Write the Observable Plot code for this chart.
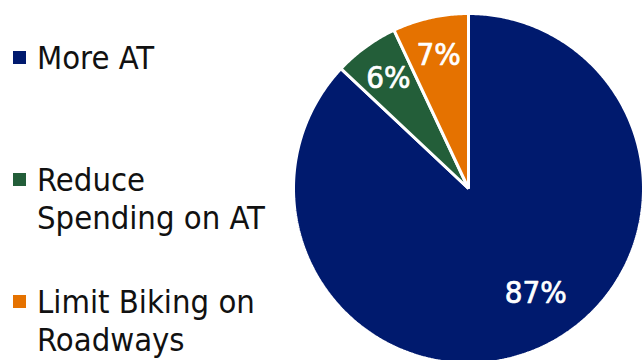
<!DOCTYPE html>
<html>
<head>
<meta charset="utf-8">
<script src="https://cdn.jsdelivr.net/npm/d3@7"></script>
<script src="https://cdn.jsdelivr.net/npm/@observablehq/plot@0.6"></script>
<style>
  html, body { margin: 0; padding: 0; background: #fff; }
  #wrap { position: relative; width: 643px; height: 360px; overflow: hidden; font-family: "DejaVu Sans Condensed", "DejaVu Sans", sans-serif; }
  #chart { position: absolute; left: 0; top: 0; }
  .legend { position: absolute; left: 0; top: 0; }
  .item { position: absolute; left: 37px; font-size: 32.5px; line-height: 38px; color: #111; white-space: nowrap; }
  .sw { position: absolute; left: -24px; top: 12px; width: 13px; height: 13px; }
</style>
</head>
<body>
<div id="wrap">
  <div id="chart"></div>
  <div class="legend" id="legend"></div>
</div>
<script>
const categories = ["More AT", "Reduce Spending on AT", "Limit Biking on Roadways"];
const legendLines = [["More AT"], ["Reduce", "Spending on AT"], ["Limit Biking on", "Roadways"]];
const values = [87, 6, 7];
const colors = ["#001A6E", "#235E39", "#E57200"];

const pie = d3.pie().sort(null).value(d => d.value).startAngle(0).endAngle(2 * Math.PI);
const arcs = pie(categories.map((c, i) => ({category: c, value: values[i]})));

// slice outlines (center + arc edge) in unit-circle coordinates
const outline = [];
arcs.forEach(a => {
  outline.push({category: a.data.category, x: 0, y: 0});
  const n = Math.max(2, Math.ceil((a.endAngle - a.startAngle) / 0.01));
  for (let k = 0; k <= n; k++) {
    const t = a.startAngle + (a.endAngle - a.startAngle) * k / n;
    outline.push({category: a.data.category, x: Math.sin(t), y: Math.cos(t)});
  }
});

const labelR = a => (a.data.value > 50 ? 0.65 : 0.78);
const labels = arcs.map(a => {
  const m = (a.startAngle + a.endAngle) / 2;
  return {category: a.data.category, text: a.data.value + "%", big: a.data.value > 50,
          x: labelR(a) * Math.sin(m), y: labelR(a) * Math.cos(m)};
});

const cx = 468, cy = 188, R = 175;
const chart = Plot.plot({
  width: 643,
  height: 360,
  margin: 0,
  x: {domain: [-1, 1], range: [cx - R, cx + R], axis: null},
  y: {domain: [-1, 1], range: [cy + R, cy - R], axis: null},
  color: {domain: categories, range: colors},
  style: {fontFamily: "'DejaVu Sans Condensed', 'DejaVu Sans', sans-serif", background: "transparent"},
  marks: [
    Plot.line(outline, {x: "x", y: "y", z: "category", fill: "category", stroke: "white", strokeWidth: 3, strokeLinejoin: "miter", curve: "linear-closed"}),
    Plot.text(labels.filter(d => !d.big), {x: "x", y: "y", text: "text", fill: "white", stroke: "white", strokeWidth: 0.7, fontSize: 31, fontWeight: "normal"}),
    Plot.text(labels.filter(d => d.big), {x: "x", y: "y", text: "text", fill: "white", stroke: "white", strokeWidth: 0.7, fontSize: 31, fontWeight: "normal", dx: 22})
  ]
});
document.getElementById("chart").appendChild(chart);

const tops = [39, 161, 283];
const legend = document.getElementById("legend");
legendLines.forEach((lines, i) => {
  const div = document.createElement("div");
  div.className = "item";
  div.style.top = tops[i] + "px";
  div.innerHTML = lines.join("<br>");
  const sw = document.createElement("span");
  sw.className = "sw";
  sw.style.background = colors[i];
  div.appendChild(sw);
  legend.appendChild(div);
});
</script>
</body>
</html>
